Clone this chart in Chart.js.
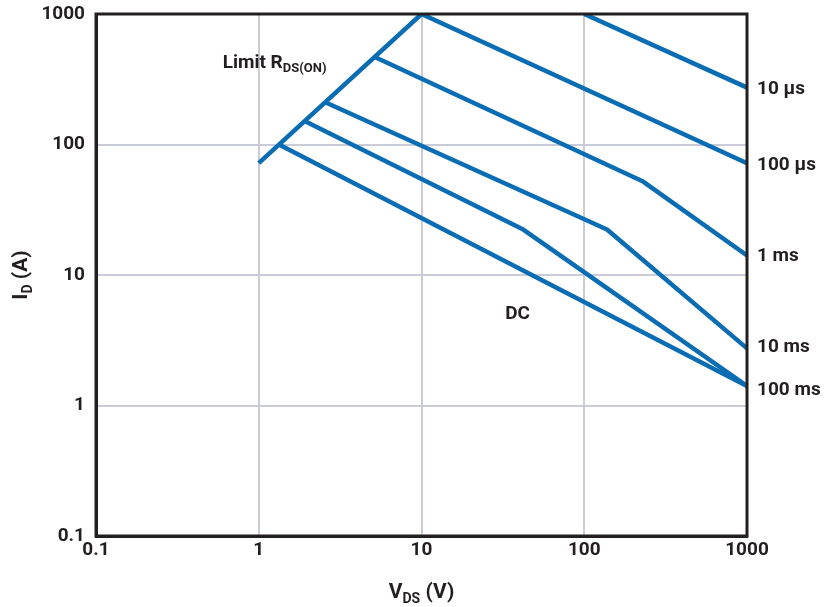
<!DOCTYPE html>
<html>
<head>
<meta charset="utf-8">
<script src="https://cdn.jsdelivr.net/npm/chart.js@4.4.0/dist/chart.umd.min.js"></script>
<style>
  html, body { margin: 0; padding: 0; background: #fff; }
  #wrap { width: 836px; height: 607px; }
</style>
</head>
<body>
<div id="wrap"><canvas id="soa"></canvas></div>
<script>
// --- AXES ---
const tickValues = [0.1, 1, 10, 100, 1000];
const tickLabels = ['0.1', '1', '10', '100', '1000'];

// --- CURVES (VDS in V, ID in A) ---
const limitV = [1, 10];
const limitI = [72, 1000];
const us10V = [100, 1000];
const us10I = [1000, 273];
const us100V = [10, 1000];
const us100I = [1000, 72];
const ms1V = [5.08, 230, 1000];
const ms1I = [472, 52, 14.1];
const ms10V = [2.58, 138, 1000];
const ms10I = [210, 22.3, 2.74];
const ms100V = [1.94, 42.2, 1000];
const ms100I = [150, 22.3, 1.41];
const dcV = [1.33, 1000];
const dcI = [100, 1.41];

// end labels on the right, top to bottom (ID where each label sits)
const endLabels = ['10 µs', '100 µs', '1 ms', '10 ms', '100 ms'];
const endLabelI = [268, 71, 14.1, 2.83, 1.33];

// in-plot notes (anchored at V, I)
const limitNoteAt = [0.6, 420];
const dcNoteAt = [32.7, 5.0];

const ink = '#231f20';
const blue = '#0a6db4';
const fam = 'Roboto, "Liberation Sans", sans-serif';

function pts(xs, ys) {
  return xs.map((x, i) => ({ x: x, y: ys[i] }));
}

function curve(xs, ys) {
  return {
    data: pts(xs, ys),
    showLine: true,
    borderColor: blue,
    borderWidth: 4.5,
    borderJoinStyle: 'round',
    pointRadius: 0,
    tension: 0
  };
}

// text with subscript parts: [[text, isSub], ...]
function subText(ctx, parts, x, y, size, align) {
  const subSize = Math.round(size * 0.68);
  let w = 0;
  parts.forEach(p => {
    ctx.font = `bold ${p[1] ? subSize : size}px ${fam}`;
    w += ctx.measureText(p[0]).width;
  });
  let cx = align === 'center' ? x - w / 2 : x;
  ctx.textAlign = 'left';
  ctx.textBaseline = 'middle';
  parts.forEach(p => {
    ctx.font = `bold ${p[1] ? subSize : size}px ${fam}`;
    ctx.fillText(p[0], cx, p[1] ? y + size * 0.3 : y);
    cx += ctx.measureText(p[0]).width;
  });
}

const frame = {
  id: 'frame',
  afterDatasetsDraw(chart) {
    const { ctx, chartArea: a, scales } = chart;
    ctx.save();
    ctx.strokeStyle = ink;
    ctx.lineWidth = 3;
    ctx.strokeRect(a.left, a.top, a.right - a.left, a.bottom - a.top);

    ctx.fillStyle = ink;
    // right end labels
    endLabels.forEach((t, i) => {
      ctx.font = `bold 19px ${fam}`;
      ctx.textAlign = 'left';
      ctx.textBaseline = 'middle';
      ctx.fillText(t, a.right + 10, scales.y.getPixelForValue(endLabelI[i]) + 1);
    });

    // notes
    subText(ctx, [['Limit R', false], ['DS(ON)', true]],
      scales.x.getPixelForValue(limitNoteAt[0]), scales.y.getPixelForValue(limitNoteAt[1]), 19, 'left');
    subText(ctx, [['DC', false]],
      scales.x.getPixelForValue(dcNoteAt[0]), scales.y.getPixelForValue(dcNoteAt[1]), 19, 'left');

    // axis titles
    subText(ctx, [['V', false], ['DS', true], [' (V)', false]], (a.left + a.right) / 2, 593, 21, 'center');
    ctx.translate(22, (a.top + a.bottom) / 2);
    ctx.rotate(-Math.PI / 2);
    subText(ctx, [['I', false], ['D', true], [' (A)', false]], 0, 0, 21, 'center');
    ctx.restore();
  }
};

function logAxis(extra) {
  return Object.assign({
    type: 'logarithmic',
    min: 0.1,
    max: 1000,
    afterBuildTicks: s => { s.ticks = tickValues.map(v => ({ value: v })); },
    ticks: {
      autoSkip: false,
      maxRotation: 0,
      color: ink,
      font: { family: fam, size: 19, weight: 'bold' },
      callback: (v, i) => tickLabels[i]
    },
    grid: { color: '#c9cbd9', lineWidth: 2, tickLength: 0 },
    border: { display: true, color: ink, width: 3 }
  }, extra);
}

const xAxis = logAxis({ afterFit: s => { s.height = 71; s.paddingLeft = 0; s.paddingRight = 0; } });
xAxis.ticks.padding = 3;
const yAxis = logAxis({ afterFit: s => { s.width = 96; s.paddingTop = 0; s.paddingBottom = 0; } });
yAxis.ticks.padding = 11;

new Chart(document.getElementById('soa'), {
  type: 'scatter',
  data: {
    datasets: [
      curve(limitV, limitI),
      curve(us10V, us10I),
      curve(us100V, us100I),
      curve(ms1V, ms1I),
      curve(ms10V, ms10I),
      curve(ms100V, ms100I),
      curve(dcV, dcI)
    ]
  },
  options: {
    responsive: true,
    maintainAspectRatio: false,
    animation: false,
    layout: { padding: { top: 14, right: 89, left: 0, bottom: 0 } },
    plugins: { legend: { display: false }, tooltip: { enabled: false } },
    scales: { x: xAxis, y: yAxis }
  },
  plugins: [frame]
});
</script>
</body>
</html>
